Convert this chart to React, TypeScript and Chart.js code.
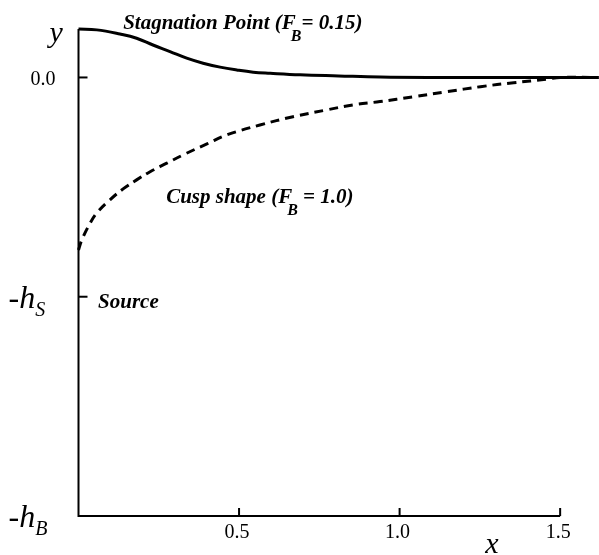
import React, { useEffect, useRef } from "react";
import { Chart, registerables } from "chart.js";

Chart.register(...registerables);

// Stagnation point curve (F_B = 0.15)
const stagX = [0, 0.057, 0.129, 0.181, 0.232, 0.285, 0.337, 0.388, 0.441, 0.493, 0.544, 0.597, 0.69, 0.81, 0.94, 1.1, 1.3, 1.62];
const stagY = [0.221, 0.217, 0.198, 0.179, 0.148, 0.118, 0.088, 0.065, 0.047, 0.034, 0.024, 0.019, 0.012, 0.007, 0.002, 0, 0, 0];

// Cusp shape curve (F_B = 1.0)
const cuspX = [0, 0.01, 0.036, 0.057, 0.098, 0.14, 0.181, 0.223, 0.275, 0.326, 0.4, 0.462, 0.565, 0.668, 0.773, 0.855, 0.939, 1.042, 1.147, 1.252, 1.355, 1.459, 1.5, 1.62];
const cuspY = [-0.787, -0.742, -0.665, -0.618, -0.558, -0.507, -0.467, -0.43, -0.391, -0.353, -0.303, -0.262, -0.217, -0.179, -0.148, -0.125, -0.11, -0.088, -0.065, -0.042, -0.024, -0.008, 0, 0];

// Axis ticks
const xTicks = [0.5, 1.0, 1.5];
const xTickLabels = ["0.5", "1.0", "1.5"];
const yTicks = [0, -1, -2];
const yTickLabels = ["0.0", "-h|S", "-h|B"];

const X_MIN = 0;
const X_MAX = 1.621;
const Y_MIN = -2;
const Y_MAX = 0.221;

const SERIF = '"Liberation Serif", "Times New Roman", serif';

type Part = { t: string; f: string; dx?: number; dy?: number };

function drawRich(ctx: CanvasRenderingContext2D, parts: Part[], x: number, y: number) {
  let cx = x;
  for (const p of parts) {
    ctx.font = p.f;
    cx += p.dx || 0;
    ctx.fillText(p.t, cx, y + (p.dy || 0));
    cx += ctx.measureText(p.t).width;
  }
}

const axesPlugin = {
  id: "customAxes",
  afterDraw(chart: any) {
    const { ctx, scales } = chart;
    const xs = scales.x;
    const ys = scales.y;
    const x0 = xs.getPixelForValue(0);
    const yTop = ys.getPixelForValue(Y_MAX);
    const yb = ys.getPixelForValue(Y_MIN);
    ctx.save();
    ctx.strokeStyle = "#000";
    ctx.fillStyle = "#000";
    ctx.lineWidth = 2;
    ctx.lineCap = "butt";
    ctx.beginPath();
    ctx.moveTo(x0, yTop);
    ctx.lineTo(x0, yb);
    ctx.lineTo(xs.getPixelForValue(1.5), yb);
    ctx.stroke();

    // x ticks
    ctx.textBaseline = "alphabetic";
    xTicks.forEach((v, i) => {
      const px = xs.getPixelForValue(v);
      ctx.beginPath();
      ctx.moveTo(px, yb);
      ctx.lineTo(px, yb - 8);
      ctx.stroke();
      ctx.font = `20px ${SERIF}`;
      ctx.textAlign = "center";
      ctx.fillText(xTickLabels[i], px - 2, yb + 22);
    });

    // y ticks
    yTicks.forEach((v, i) => {
      const py = ys.getPixelForValue(v);
      if (v !== Y_MIN) {
        ctx.beginPath();
        ctx.moveTo(x0, py);
        ctx.lineTo(x0 + 9, py);
        ctx.stroke();
      }
      const lab = yTickLabels[i];
      if (lab.includes("|")) {
        const [main, sub] = lab.split("|");
        ctx.textAlign = "left";
        drawRich(ctx, [
          { t: main, f: `italic 32px ${SERIF}` },
          { t: sub, f: `italic 20px ${SERIF}`, dx: 0, dy: 8 },
        ], x0 - 70, py + 11);
      } else {
        ctx.textAlign = "right";
        ctx.font = `20px ${SERIF}`;
        ctx.fillText(lab, x0 - 23, py + 8);
      }
    });

    // axis titles
    ctx.textAlign = "left";
    ctx.font = `italic 30px ${SERIF}`;
    ctx.fillText("y", x0 - 29, yTop + 13);
    ctx.textAlign = "center";
    ctx.fillText("x", 492, yb + 37);

    // annotations
    ctx.textAlign = "left";
    const mainF = `italic bold 21px ${SERIF}`;
    const subF = `italic bold 16px ${SERIF}`;
    drawRich(ctx, [
      { t: "Stagnation Point (F", f: mainF },
      { t: "B", f: subF, dx: -5, dy: 12 },
      { t: "= 0.15)", f: mainF },
    ], xs.getPixelForValue(0.139), ys.getPixelForValue(0.221));
    drawRich(ctx, [
      { t: "Cusp shape (F", f: mainF },
      { t: "B", f: subF, dx: -5, dy: 12 },
      { t: " = 1.0)", f: mainF },
    ], xs.getPixelForValue(0.273), ys.getPixelForValue(-0.574));
    drawRich(ctx, [{ t: "Source", f: mainF }], xs.getPixelForValue(0.061), ys.getPixelForValue(-1.051));
    ctx.restore();
  },
};

export default function App() {
  const ref = useRef<HTMLCanvasElement | null>(null);
  useEffect(() => {
    if (!ref.current) return;
    const chart = new Chart(ref.current, {
      type: "line",
      data: {
        datasets: [
          {
            label: "Stagnation Point (F_B = 0.15)",
            data: stagX.map((x, i) => ({ x, y: stagY[i] })),
            borderColor: "#000",
            borderWidth: 3,
            pointRadius: 0,
            tension: 0.4,
            fill: false,
            clip: false as any,
          },
          {
            label: "Cusp shape (F_B = 1.0)",
            data: cuspX.map((x, i) => ({ x, y: cuspY[i] })),
            borderColor: "#000",
            borderWidth: 3,
            borderDash: [9, 6],
            pointRadius: 0,
            tension: 0.4,
            fill: false,
            clip: false as any,
          },
        ],
      },
      options: {
        animation: false,
        responsive: false,
        layout: { padding: { left: 78.5, top: 29, right: 0, bottom: 39 } },
        plugins: { legend: { display: false }, tooltip: { enabled: false } },
        scales: {
          x: { type: "linear", min: X_MIN, max: X_MAX, display: false },
          y: { type: "linear", min: Y_MIN, max: Y_MAX, display: false },
        },
      },
      plugins: [axesPlugin],
    });
    return () => chart.destroy();
  }, []);
  return (
    <div style={{ position: "fixed", left: 0, top: 0, width: 599, height: 555, background: "#fff" }}>
      <canvas ref={ref} width={599} height={555} />
    </div>
  );
}
